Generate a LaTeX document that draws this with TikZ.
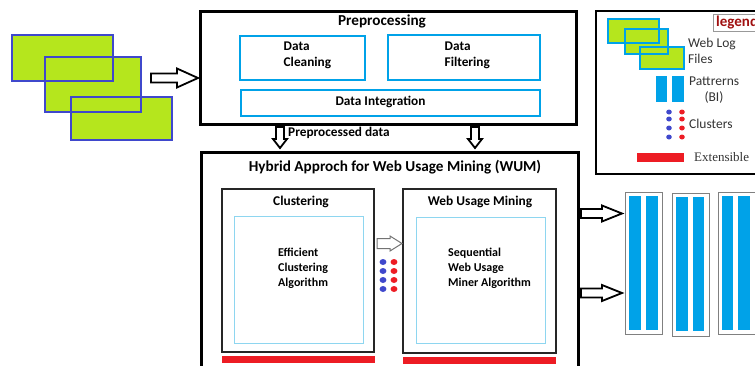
\documentclass[tikz,border=0pt]{standalone}
\usepackage{fontspec}
\setmainfont{Carlito}
\newfontfamily\tnr{Liberation Serif}
\definecolor{lgreen}{HTML}{B5E61D}
\definecolor{dblue}{HTML}{3F48CC}
\definecolor{cyanb}{HTML}{00A2E8}
\definecolor{lcyan}{HTML}{8ED6F0}
\definecolor{redb}{HTML}{ED1C24}
\definecolor{dotblue}{HTML}{3F48CC}
\definecolor{legred}{HTML}{A01010}
\newcommand\barrw[8]{\draw[#8,shift={(#1,#2)},rotate=#3] (0,-#6) -- ({#4-#5},-#6) -- ({#4-#5},-#7) -- (#4,0) -- ({#4-#5},#7) -- ({#4-#5},#6) -- (0,#6) -- cycle;}
\begin{document}
\begin{tikzpicture}[x=1pt,y=-1pt,
  bigbox/.style={draw=black,line width=3pt,inner sep=0pt},
  midbox/.style={draw=black!85,line width=2pt,inner sep=0pt},
  cybox/.style={draw=cyanb,line width=2pt,inner sep=0pt},
  inbox/.style={draw=lcyan,line width=1pt,inner sep=0pt},
  ttl/.style={font=\bfseries\fontsize{15.2}{18}\selectfont,inner sep=0pt},
  sttl/.style={font=\bfseries\fontsize{13.4}{16}\selectfont,inner sep=0pt},
  body/.style={font=\bfseries\fontsize{13.3}{16}\selectfont,inner sep=0pt,align=left},
  body2/.style={font=\bfseries\fontsize{12}{15}\selectfont,inner sep=0pt,align=left},
  legtxt/.style={font=\fontsize{13.5}{16}\selectfont,text=black!80,inner sep=0pt,align=left},
  arrowline/.style={draw=black,line width=1.8pt,fill=white,line join=miter},
  garrow/.style={draw=black!55,line width=1pt,fill=white},
  patbox/.style={draw=black!50,line width=1pt},
]
\useasboundingbox (0,0) rectangle (755,365);
\clip (0,0) rectangle (755,365);
% web log files (left)
\fill[lgreen] (12,35) rectangle (113,81);
\fill[lgreen] (45,57) rectangle (141,112);
\fill[lgreen] (71,97) rectangle (172,140);
\draw[dblue,line width=1.6pt] (12,35) rectangle (113,81);
\draw[dblue,line width=1.6pt] (45,57) rectangle (141,112);
\draw[dblue,line width=1.6pt] (71,97) rectangle (172,140);
\barrw{151}{78}{0}{47}{21}{4.5}{9.5}{arrowline}
% Preprocessing
\node[bigbox,minimum width=376pt,minimum height=113pt] (pre) at (388.5,67.5) {};
\node[ttl] (pret) at (382,21) {Preprocessing};
\node[cybox,minimum width=125pt,minimum height=44pt] (clean) at (302.5,58) {};
\node[body,anchor=west] (cleant) at (283.5,55.5) {Data\\Cleaning};
\node[cybox,minimum width=152pt,minimum height=45pt] (filt) at (464,57.5) {};
\node[body,anchor=west] (filtt) at (444.5,55.5) {Data\\Filtering};
\node[cybox,minimum width=299pt,minimum height=26pt] (integ) at (390.5,103) {};
\node[body] (integt) at (380.5,102) {Data Integration};
\barrw{280}{127}{-90}{21}{9}{4}{7}{arrowline}
\barrw{475}{127}{-90}{21}{9}{4}{7}{arrowline}
\node[body,anchor=west] (ppd) at (288,133) {Preprocessed data};
% Hybrid
\node[bigbox,minimum width=377pt,minimum height=240pt] (hyb) at (389.5,272) {};
\node[ttl] (hybt) at (395,167) {Hybrid Approch for Web Usage Mining (WUM)};
\node[midbox,minimum width=152pt,minimum height=163pt] (clu) at (298,270.5) {};
\node[sttl] (clut) at (301,202) {Clustering};
\node[inbox,minimum width=129pt,minimum height=127pt] (cluin) at (298.5,279.5) {};
\node[body2,anchor=west] (clutx) at (278,268) {Efficient\\Clustering\\Algorithm};
\fill[redb] (222,356) rectangle (375,363);
\node[midbox,minimum width=153pt,minimum height=164pt] (wum) at (479.5,271) {};
\node[sttl] (wumt) at (480,202) {Web Usage Mining};
\node[inbox,minimum width=129pt,minimum height=126pt] (wumin) at (480.5,280) {};
\node[body2,anchor=west] (wumtx) at (448,268) {Sequential\\Web Usage\\Miner Algorithm};
\fill[redb] (403,357) rectangle (556,364);
\barrw{377}{243.5}{0}{25}{12}{5}{7.5}{garrow}
\foreach \yy in {262,271,280,289}{
  \fill[dotblue] (383,\yy) ellipse (3.4pt and 3pt);
  \fill[redb] (394,\yy) ellipse (3.4pt and 3pt);
}
% right arrows and patterns
\barrw{581}{213.5}{0}{41}{20}{4.5}{8}{arrowline}
\barrw{581}{293}{0}{41}{20}{4.5}{8}{arrowline}
\draw[patbox] (625,192) rectangle (662,334);
\fill[cyanb] (629,196) rectangle (641,330);
\fill[cyanb] (646,196) rectangle (658,330);
\draw[patbox] (672,193) rectangle (709,336);
\fill[cyanb] (676,197) rectangle (688,331);
\fill[cyanb] (693,197) rectangle (704,331);
\draw[patbox] (718,192) rectangle (755,334);
\fill[cyanb] (722,196) rectangle (733,330);
\fill[cyanb] (738,196) rectangle (750,330);
% legend
\node[draw=black,line width=2pt,minimum width=164pt,minimum height=163pt,inner sep=0pt] (leg) at (678,92.5) {};
\draw[black!40,line width=0.8pt] (713,14) rectangle (765,31);
\node[font=\bfseries\fontsize{15}{17}\selectfont,text=legred,anchor=west,inner sep=0pt] (legt) at (716,22.5) {legend};
\fill[lgreen] (608,19) rectangle (659,43);
\fill[lgreen] (625,29) rectangle (668,54);
\fill[lgreen] (640,47) rectangle (684,69);
\draw[cyanb,line width=1.8pt] (608,19) rectangle (659,43);
\draw[cyanb,line width=1.8pt] (625,29) rectangle (668,54);
\draw[cyanb,line width=1.8pt] (640,47) rectangle (684,69);
\node[legtxt,anchor=west] (wlf) at (688,51) {Web Log\\Files};
\fill[cyanb] (656,76) rectangle (667,102);
\fill[cyanb] (672,76) rectangle (684,102);
\node[legtxt,anchor=west] (patt) at (689,81) {Pattrerns};
\node[legtxt] (bi) at (714,97) {(BI)};
\foreach \yy in {112,119,128,137}{
  \fill[dotblue] (669,\yy) ellipse (2.8pt and 2.5pt);
  \fill[redb] (682,\yy) ellipse (2.8pt and 2.5pt);
}
\node[legtxt,anchor=west] (clus) at (689,124) {Clusters};
\fill[redb] (637,153) rectangle (684,162);
\node[font=\tnr\fontsize{13}{15}\selectfont,text=black!80,anchor=west,inner sep=0pt] (ext) at (694,157) {Extensible};
\end{tikzpicture}
\end{document}
